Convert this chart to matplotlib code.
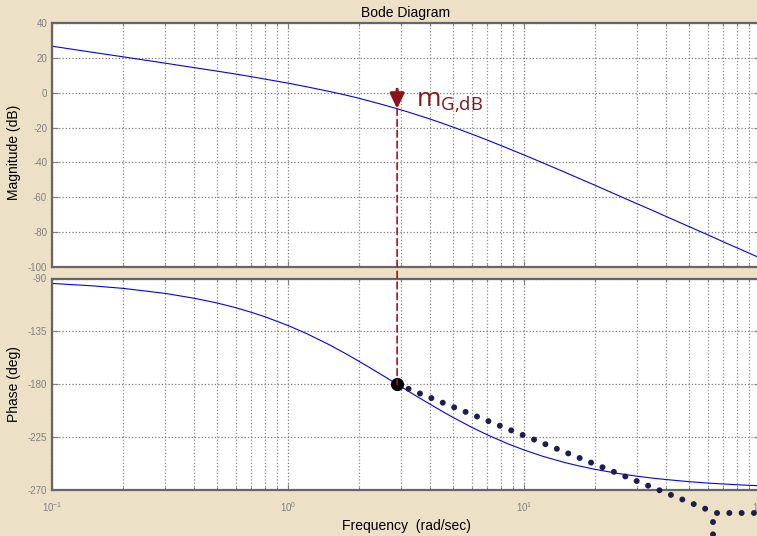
import matplotlib
matplotlib.use('Agg')
import matplotlib.pyplot as plt
from matplotlib.patches import ConnectionPatch

# values
freq = [0.1, 0.15, 0.2, 0.3, 0.4, 0.5, 0.6, 0.7, 0.8, 1.0,
        1.2, 1.5, 1.75, 2.0, 2.2, 2.5, 2.9, 3.2, 3.5, 4.0,
        4.5, 5.0, 6.0, 7.0, 8.5, 10, 12, 15, 17, 20,
        25, 30, 35, 40, 50, 60, 70, 85, 100]
mag_db = [26.7, 23.1, 20.6, 17.0, 14.4, 12.4, 10.7, 9.2, 7.8, 5.5,
          3.4, 0.7, -1.3, -3.2, -4.7, -6.7, -9.2, -10.9, -12.6, -15.1,
          -17.5, -19.7, -23.7, -27.2, -31.8, -35.7, -40.2, -45.8, -49.0, -53.1,
          -58.9, -63.6, -67.5, -71.0, -76.8, -81.5, -85.6, -90.6, -94.8]
phase_deg = [-94.2, -96.3, -98.4, -102.6, -106.8, -110.8, -114.8, -118.8, -122.6, -130.0,
             -136.9, -146.5, -153.8, -160.5, -165.4, -172.1, -180.0, -185.3, -190.1, -197.0,
             -203.0, -208.2, -216.6, -223.1, -230.5, -235.9, -241.3, -246.8, -249.4, -252.4,
             -255.9, -258.2, -259.9, -261.1, -262.9, -264.1, -264.9, -265.8, -266.4]

w_cross = 2.9          # phase crossover frequency
m_cross = -9.2         # magnitude there (dB)
p_cross = -180.0

tangent_freq = [2.9, 65.0]
tangent_phase = [-180.0, -289.6]
horiz_freq = [65.5, 115.0]
horiz_phase = [-289.6, -289.6]
vert_freq = [63.0, 63.0]
vert_phase = [-297.0, -322.0]

mag_ticks = [40, 20, 0, -20, -40, -60, -80, -100]
phase_ticks = [-90, -135, -180, -225, -270]

plt.rcParams['font.family'] = ['Liberation Sans', 'DejaVu Sans']
plt.rcParams['axes.unicode_minus'] = False
plt.rcParams['mathtext.fontset'] = 'custom'
plt.rcParams['mathtext.rm'] = 'Liberation Sans'
plt.rcParams['mathtext.it'] = 'Liberation Sans:italic'
plt.rcParams['mathtext.bf'] = 'Liberation Sans:bold'

W, H = 757, 536
fig = plt.figure(figsize=(W / 100, H / 100), dpi=100, facecolor='#ECE1C6')

left = 52 / W
width = (760 - 52) / W
ax1 = fig.add_axes([left, 1 - 267 / H, width, (267 - 23) / H])
ax2 = fig.add_axes([left, 1 - 490 / H, width, (490 - 278.5) / H])

red = '#8B1414'
for ax in (ax1, ax2):
    ax.set_xscale('log')
    ax.set_xlim(0.1, 100)
    ax.set_facecolor('white')
    ax.grid(True, which='major', linestyle=':', color='#7a7a7a', lw=0.9)
    ax.grid(True, which='minor', axis='x', linestyle=':', color='#8c8c8c', lw=0.9)
    ax.tick_params(which='both', direction='in', top=True, right=True,
                   colors='#808080', labelsize=7, length=4, width=0.8)
    ax.tick_params(which='minor', length=2.5)
    ax.tick_params(axis='x', pad=7)
    for s in ax.spines.values():
        s.set_color('#666666')
        s.set_linewidth(1.6)

ax1.plot(freq, mag_db, color='#0000FF', lw=0.8)
ax1.set_ylim(-100, 40)
ax1.set_yticks(mag_ticks)
ax1.tick_params(labelbottom=False)
ax1.set_ylabel('Magnitude (dB)', fontsize=10)
ax1.yaxis.set_label_coords(-0.044, 0.47)
ax1.set_title('Bode Diagram', fontsize=10, pad=4)

ax2.plot(freq, phase_deg, color='#0000FF', lw=0.8)
ax2.set_ylim(-270, -90)
ax2.set_yticks(phase_ticks)
ax2.set_ylabel('Phase (deg)', fontsize=10)
ax2.yaxis.set_label_coords(-0.044, 0.5)
ax2.set_xlabel('Frequency  (rad/sec)', fontsize=10, labelpad=4)

# tangent-like dotted path
dot_kw = dict(color='#1E1E4E', lw=4.3, linestyle=(0, (0.01, 2.05)),
              dash_capstyle='round', clip_on=False, zorder=6)
ax2.plot(tangent_freq, tangent_phase, **dot_kw)
ax2.plot(horiz_freq, horiz_phase, **dot_kw)
ax2.plot(vert_freq, vert_phase, **dot_kw)

ax2.plot([w_cross], [p_cross], 'o', color='black', ms=8.5, zorder=7, clip_on=False)

con = ConnectionPatch(xyA=(w_cross, m_cross), coordsA=ax1.transData,
                      xyB=(w_cross, p_cross), coordsB=ax2.transData,
                      linestyle=(0, (4, 2.5)), color='#A01818', lw=1.2, zorder=8)
fig.add_artist(con)

ax1.annotate('', xy=(w_cross, m_cross), xytext=(w_cross, 2.0),
             arrowprops=dict(arrowstyle='-|>,head_width=0.36,head_length=0.75',
                             color=red, lw=2.2, shrinkA=0, shrinkB=0,
                             mutation_scale=12), zorder=9)
ax1.text(3.5, -8.0, r'$\mathregular{m_{G{,}dB}}$', color=red, fontsize=19,
         family='Open Sans', ha='left', va='baseline', zorder=9)

fig.savefig('out.png', dpi=100, facecolor=fig.get_facecolor())
